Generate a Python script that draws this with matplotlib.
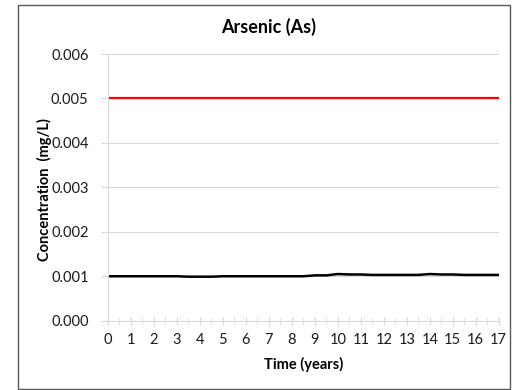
import matplotlib
matplotlib.use("Agg")
import matplotlib.pyplot as plt
from matplotlib.patches import Rectangle

years = [0, 0.5, 1, 1.5, 2, 2.5, 3, 3.5, 4, 4.5, 5, 5.5, 6, 6.5, 7, 7.5, 8, 8.5,
         9, 9.5, 10, 10.5, 11, 11.5, 12, 12.5, 13, 13.5, 14, 14.5, 15, 15.5, 16, 16.5, 17]
arsenic = [0.00100, 0.00100, 0.00100, 0.00100, 0.00100, 0.00100, 0.00100, 0.00099,
           0.00099, 0.00099, 0.00100, 0.00100, 0.00100, 0.00100, 0.00100, 0.00100,
           0.00100, 0.00100, 0.00102, 0.00102, 0.00105, 0.00104, 0.00104, 0.00103,
           0.00103, 0.00103, 0.00103, 0.00103, 0.00105, 0.00104, 0.00104, 0.00103,
           0.00103, 0.00103, 0.00103]
limit = 0.005
yticks = [0.000, 0.001, 0.002, 0.003, 0.004, 0.005, 0.006]
xticks = list(range(0, 18))

plt.rcParams['font.family'] = ['Lato', 'DejaVu Sans']

fig = plt.figure(figsize=(5.12, 3.90), dpi=100)
ax = fig.add_axes([108/512, 1-320.7/390, (498.7-108)/512, (320.7-54)/390])

fig.patches.append(Rectangle((18/512, 1/390), (510-18)/512, (388-4)/390,
                             transform=fig.transFigure, fill=False,
                             edgecolor='#595959', linewidth=1.0))

ax.plot([years[0], years[-1]], [limit, limit], color='#ff0000', linewidth=1.6)
ax.plot(years, arsenic, color='#000000', linewidth=1.8)

ax.set_xlim(0, 17)
ax.set_ylim(0, 0.006)
ax.set_yticks(yticks)
ax.set_yticklabels([f"{v:.3f}" for v in yticks], fontsize=10.5, color='#1a1a1a')
ax.set_xticks(xticks)
ax.set_xticklabels([str(v) for v in xticks], fontsize=10.5, color='#1a1a1a')
ax.set_xticks([x + 0.5 for x in xticks[:-1]], minor=True)

ax.grid(axis='y', color='#d9d9d9', linewidth=0.8)
ax.set_axisbelow(True)
for s in ['top', 'right']:
    ax.spines[s].set_visible(False)
ax.spines['left'].set_color('#d9d9d9')
ax.spines['bottom'].set_color('#d9d9d9')
ax.tick_params(axis='y', length=5, color='#d9d9d9', pad=9)
ax.tick_params(axis='x', which='both', direction='inout', length=6, color='#d9d9d9', pad=6)

fig.text(269/512, 1-27/390, "Arsenic (As)", fontsize=13, fontweight='bold',
         ha='center', va='center', color='#000000')
fig.text(304/512, 1-364/390, "Time (years)", fontsize=10.5, fontweight='bold',
         ha='center', va='center', color='#000000')
fig.text(44/512, 1-190/390, "Concentration  (mg/L)", fontsize=10.5, fontweight='bold',
         ha='center', va='center', rotation=90, color='#000000')

fig.savefig("out.png", dpi=100)
